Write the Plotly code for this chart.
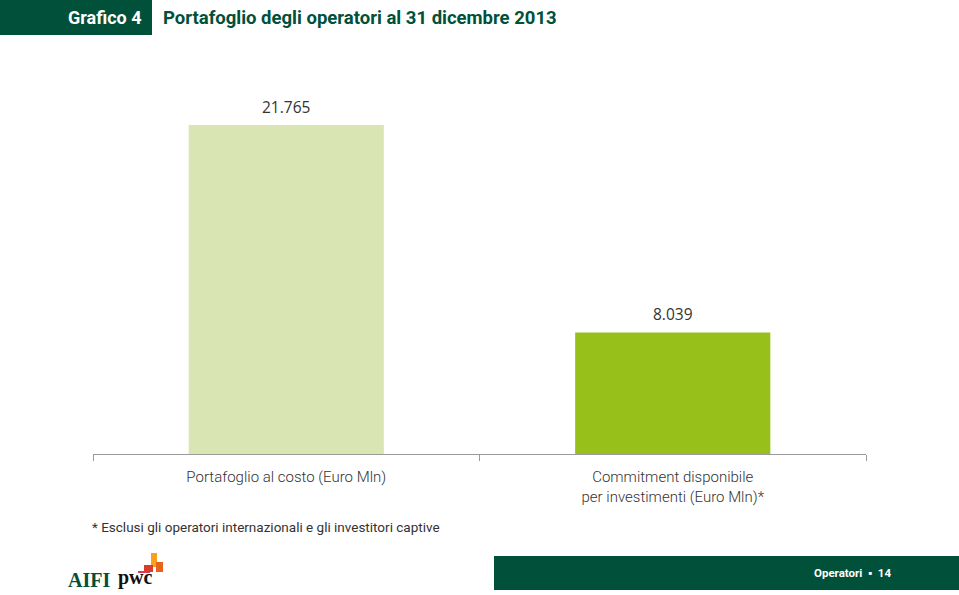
import plotly.graph_objects as go

categories = ["Portafoglio al costo (Euro Mln)",
              "Commitment disponibile<br>per investimenti (Euro Mln)*"]
values = [21765, 8039]
bar_colors = ["#d9e5b3", "#97c11a"]
value_labels = ["21.765", "8.039"]

GREEN = "#00503a"
FONT = "Roboto"

fig = go.Figure(go.Bar(
    x=categories, y=values,
    marker=dict(color=bar_colors, line=dict(width=0)),
    width=0.505, hoverinfo="x+y",
))

fig.update_layout(
    width=959, height=595,
    margin=dict(l=93, r=93, t=76, b=141),
    plot_bgcolor="white", paper_bgcolor="white",
    separators=",.",
    showlegend=False,
    xaxis=dict(showline=True, linecolor="#9a9a9a", linewidth=1,
               ticks="outside", tickson="boundaries", ticklen=6, tickcolor="#9a9a9a",
               ticklabelstandoff=9,
               tickfont=dict(family=FONT, size=15, color="#333333", weight=300),
               showgrid=False, fixedrange=True),
    yaxis=dict(range=[0, 25000], visible=False, showgrid=False, fixedrange=True),
)

def px_x(x):
    return (x - 93) / 773.0

def px_y(y):
    return (454 - y) / 378.0

shapes = [
    dict(type="rect", xref="paper", yref="paper", x0=px_x(0), x1=px_x(152), y0=px_y(35), y1=px_y(0),
         line=dict(width=0), fillcolor=GREEN, layer="below"),
    dict(type="rect", xref="paper", yref="paper", x0=px_x(494), x1=px_x(959), y0=px_y(590), y1=px_y(556),
         line=dict(width=0), fillcolor=GREEN, layer="below"),
    # pwc logo blocks
    dict(type="rect", xref="paper", yref="paper", x0=px_x(151), x1=px_x(157), y0=px_y(567), y1=px_y(553),
         line=dict(width=0), fillcolor="#f7a21b"),
    dict(type="rect", xref="paper", yref="paper", x0=px_x(156), x1=px_x(163), y0=px_y(572), y1=px_y(562),
         line=dict(width=0), fillcolor="#e8611d"),
    dict(type="rect", xref="paper", yref="paper", x0=px_x(144), x1=px_x(153), y0=px_y(572), y1=px_y(565),
         line=dict(width=0), fillcolor="#dc3a2f"),
    dict(type="rect", xref="paper", yref="paper", x0=px_x(138), x1=px_x(150), y0=px_y(573), y1=px_y(571),
         line=dict(width=0), fillcolor="#d93954"),
]
fig.update_layout(shapes=shapes)

annotations = [
    dict(text="<b>Grafico 4</b>", x=px_x(144), y=px_y(18), xanchor="right", yanchor="middle",
         font=dict(family=FONT, size=18, color="white")),
    dict(text="<b>Portafoglio degli operatori al 31 dicembre 2013</b>", x=px_x(161), y=px_y(18),
         xanchor="left", yanchor="middle", font=dict(family=FONT, size=18.5, color=GREEN)),
    dict(text="* Esclusi gli operatori internazionali e gli investitori captive", x=px_x(90), y=px_y(527),
         xanchor="left", yanchor="middle", font=dict(family=FONT, size=13.5, color="#333333")),
    dict(text="<b>Operatori</b>  ▪  <b>14</b>", x=px_x(893), y=px_y(573), xanchor="right", yanchor="middle",
         font=dict(family=FONT, size=11.5, color="white")),
    dict(text="<b>AIFI</b>", x=px_x(66), y=px_y(580), xanchor="left", yanchor="middle",
         font=dict(family="Liberation Serif", size=20, color=GREEN)),
    dict(text="<b>pwc</b>", x=px_x(116), y=px_y(577), xanchor="left", yanchor="middle",
         font=dict(family="Liberation Serif", size=20, color="#111111")),
]
for a in annotations:
    a.update(xref="paper", yref="paper", showarrow=False)

for cat, val, lab in zip(categories, values, value_labels):
    annotations.append(dict(x=cat, y=val, xref="x", yref="y", text=lab, showarrow=False,
                            yanchor="bottom", yshift=5,
                            font=dict(family="Open Sans", size=15.5, color="#333333")))
fig.update_layout(annotations=annotations)

fig.write_html("out.html", config={"displayModeBar": False},
               post_script="document.body.style.margin='0';document.body.style.overflow='hidden';")
